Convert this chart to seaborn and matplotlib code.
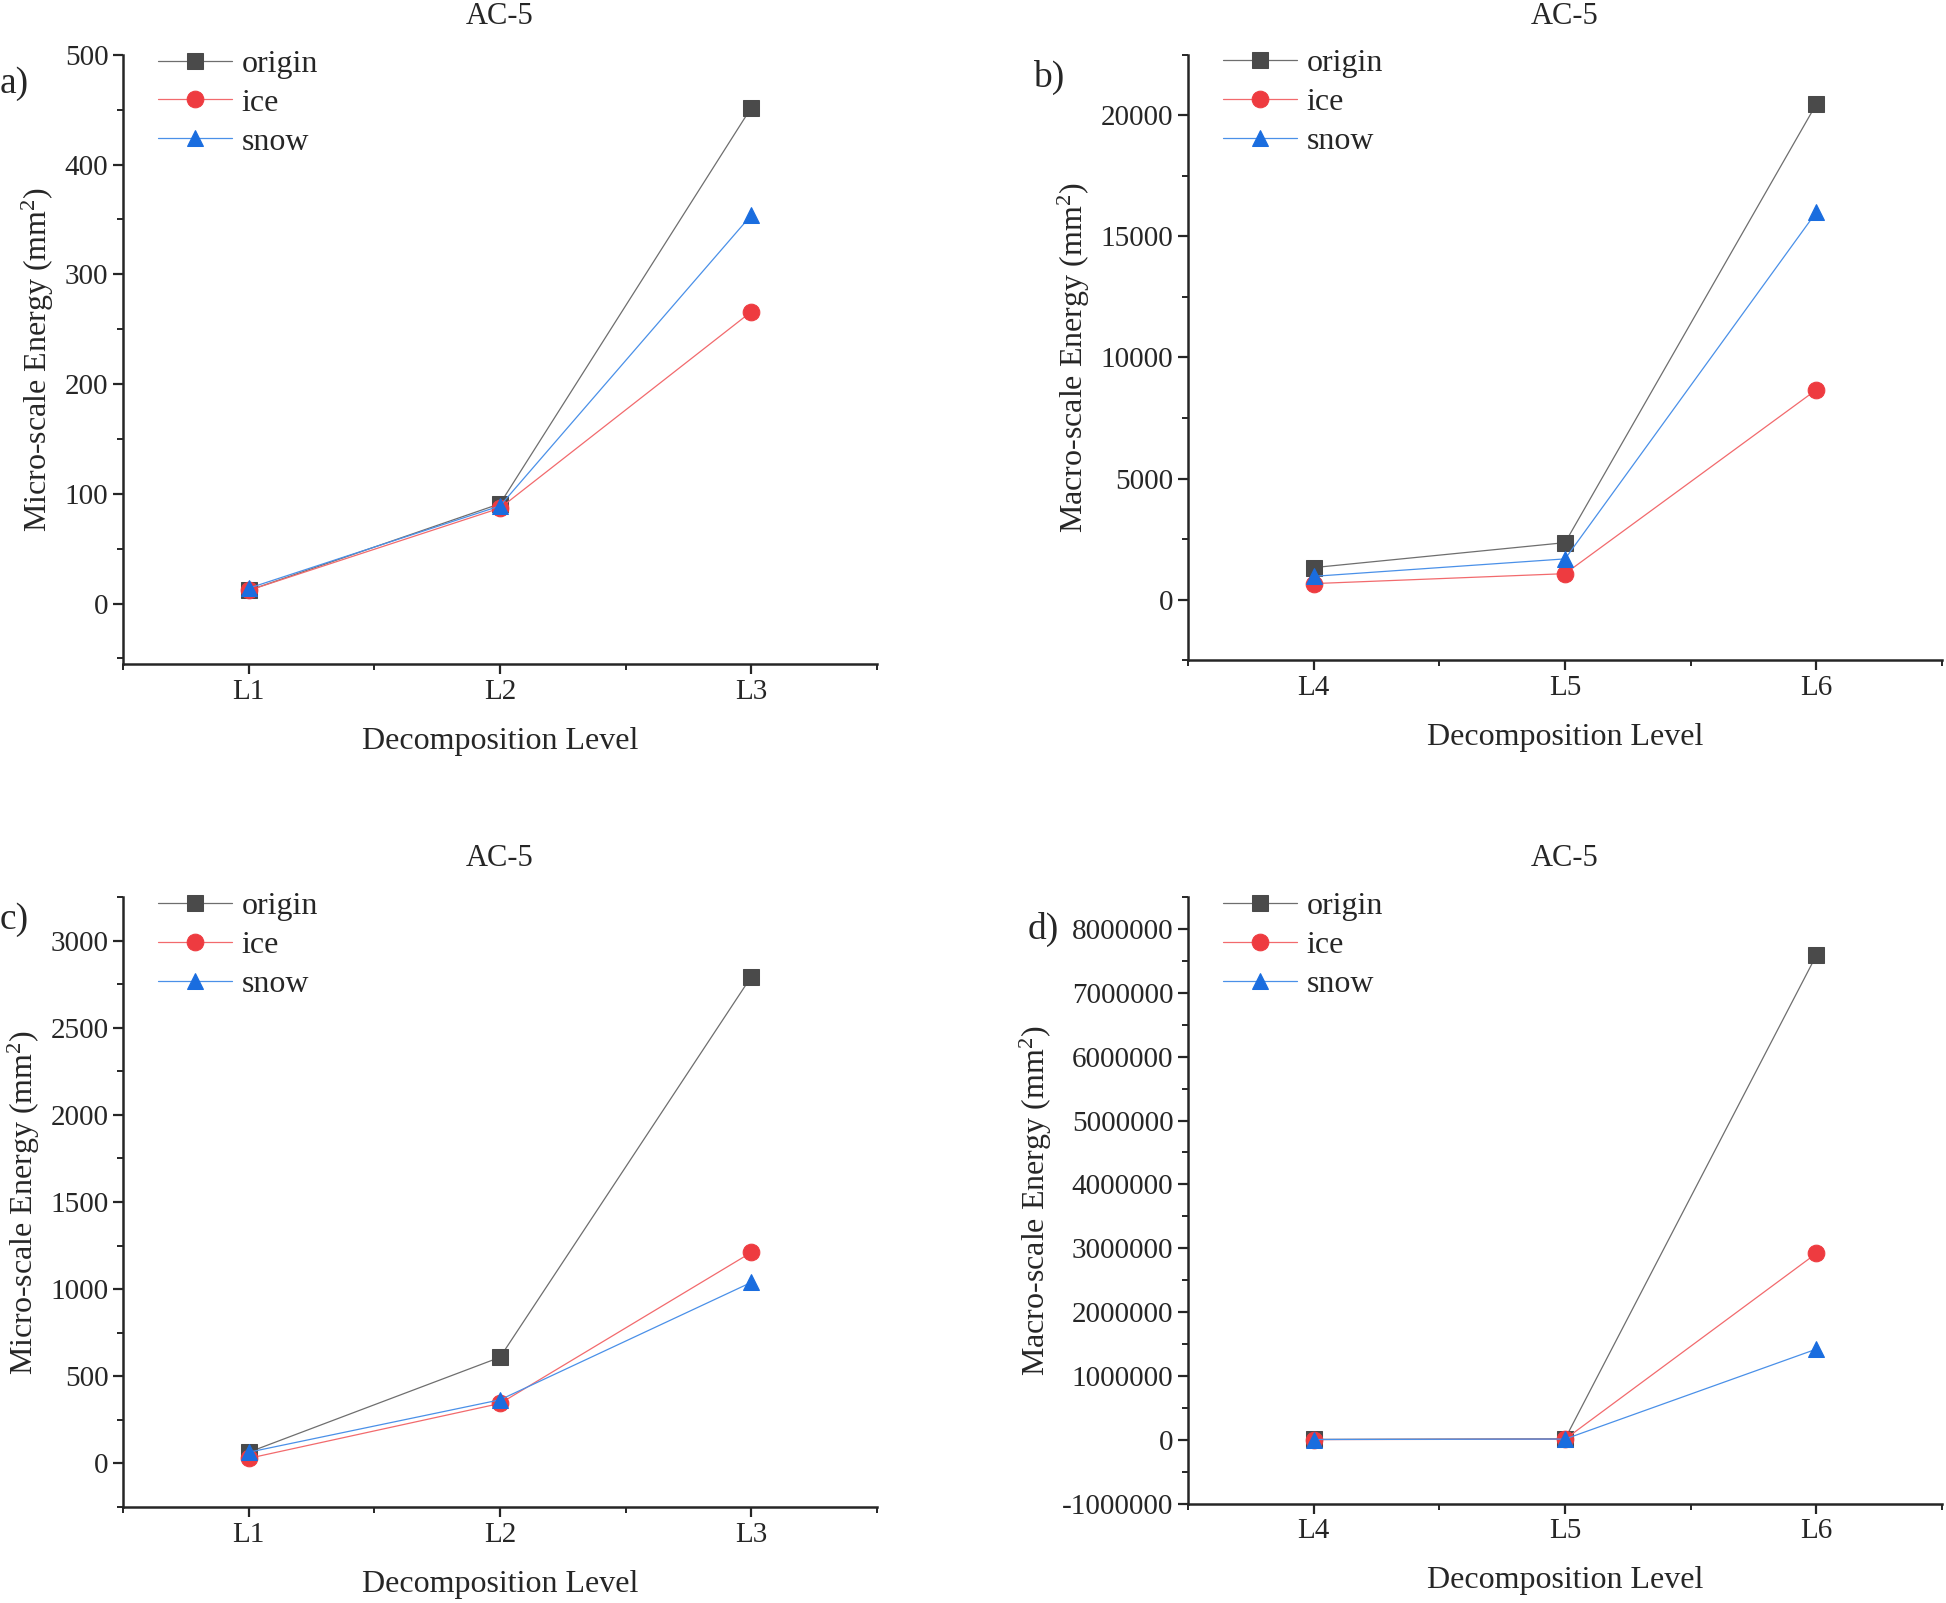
import matplotlib

matplotlib.use("Agg")

import matplotlib.pyplot as plt
import seaborn as sns
from matplotlib.ticker import FixedLocator, MultipleLocator

# данные
micro_levels = ["L1", "L2", "L3"]
macro_levels = ["L4", "L5", "L6"]
series_names = ["origin", "ice", "snow"]

# a) micro-scale
a_origin = [12, 91, 452]
a_ice = [12, 87, 266]
a_snow = [14, 89, 354]

# b) macro-scale
b_origin = [1330, 2360, 20460]
b_ice = [670, 1080, 8670]
b_snow = [970, 1690, 16000]

# c) micro-scale
c_origin = [64, 609, 2794]
c_ice = [29, 344, 1211]
c_snow = [64, 365, 1039]

# d) macro-scale
d_origin = [5000, 15000, 7590000]
d_ice = [3000, 9000, 2920000]
d_snow = [4000, 11000, 1420000]

line_colors = {"origin": "#6e6e6e", "ice": "#f26a6d", "snow": "#4a90e8"}
marker_colors = {"origin": "#4a4a4a", "ice": "#ee3b40", "snow": "#1a6ddf"}
markers = {"origin": "s", "ice": "o", "snow": "^"}

sns.set_style("ticks")
plt.rcParams.update(
    {
        "font.family": ["Liberation Serif", "DejaVu Serif"],
        "mathtext.fontset": "custom",
        "mathtext.rm": "Liberation Serif",
        "axes.unicode_minus": False,
        "axes.linewidth": 1.8,
        "xtick.major.width": 1.6,
        "ytick.major.width": 1.6,
        "xtick.minor.width": 1.4,
        "ytick.minor.width": 1.4,
        "xtick.major.size": 7,
        "ytick.major.size": 7,
        "xtick.minor.size": 4.5,
        "ytick.minor.size": 4.5,
        "xtick.direction": "out",
        "ytick.direction": "out",
    }
)


def draw_panel(ax, levels, values, ylim, major, minor, ylabel, tag, tag_xy):
    for name, vals in zip(series_names, values):
        sns.lineplot(
            x=levels,
            y=vals,
            ax=ax,
            color=line_colors[name],
            linewidth=0.9,
            marker=markers[name],
            markersize=12,
            markerfacecolor=marker_colors[name],
            markeredgecolor=marker_colors[name],
            label=name,
            sort=False,
        )
    ax.set_xlim(-0.5, 2.5)
    ax.set_ylim(*ylim)
    ax.yaxis.set_major_locator(MultipleLocator(major))
    ax.yaxis.set_minor_locator(MultipleLocator(minor))
    ax.xaxis.set_minor_locator(FixedLocator([-0.5, 0.5, 1.5, 2.5]))
    ax.ticklabel_format(style="plain", axis="y", useOffset=False)
    ax.tick_params(axis="both", which="major", labelsize=21)
    sns.despine(ax=ax)
    ax.set_xlabel("Decomposition Level", fontsize=23, labelpad=16)
    ax.set_ylabel(ylabel, fontsize=23, labelpad=6)
    ax.set_title("AC-5", fontsize=22, pad=22)
    ax.legend(
        loc="upper left",
        bbox_to_anchor=(0.03, 1.03),
        frameon=False,
        fontsize=23,
        handlelength=2.3,
        handletextpad=0.3,
        labelspacing=0.3,
        borderaxespad=0.0,
    )
    ax.figure.text(tag_xy[0], tag_xy[1], tag, fontsize=27, ha="left", va="center")


fig = plt.figure(figsize=(19.46, 16.03), dpi=100)
ax_a = fig.add_axes([0.0632, 0.5858, 0.3875, 0.380])
ax_b = fig.add_axes([0.6105, 0.5880, 0.3875, 0.378])
ax_c = fig.add_axes([0.0632, 0.0599, 0.3875, 0.3805])
ax_d = fig.add_axes([0.6105, 0.0620, 0.3875, 0.3784])

micro_label = "Micro-scale Energy (mm$\\mathregular{^2}$)"
macro_label = "Macro-scale Energy (mm$\\mathregular{^2}$)"

draw_panel(ax_a, micro_levels, [a_origin, a_ice, a_snow], (-55, 500), 100, 50,
           micro_label, "a)", (0.0, 0.948))
draw_panel(ax_b, macro_levels, [b_origin, b_ice, b_snow], (-2500, 22500), 5000, 2500,
           macro_label, "b)", (0.531, 0.952))
draw_panel(ax_c, micro_levels, [c_origin, c_ice, c_snow], (-250, 3250), 500, 250,
           micro_label, "c)", (0.0, 0.426))
draw_panel(ax_d, macro_levels, [d_origin, d_ice, d_snow], (-1000000, 8500000), 1000000, 500000,
           macro_label, "d)", (0.528, 0.420))

fig.savefig("out.png", dpi=100)
